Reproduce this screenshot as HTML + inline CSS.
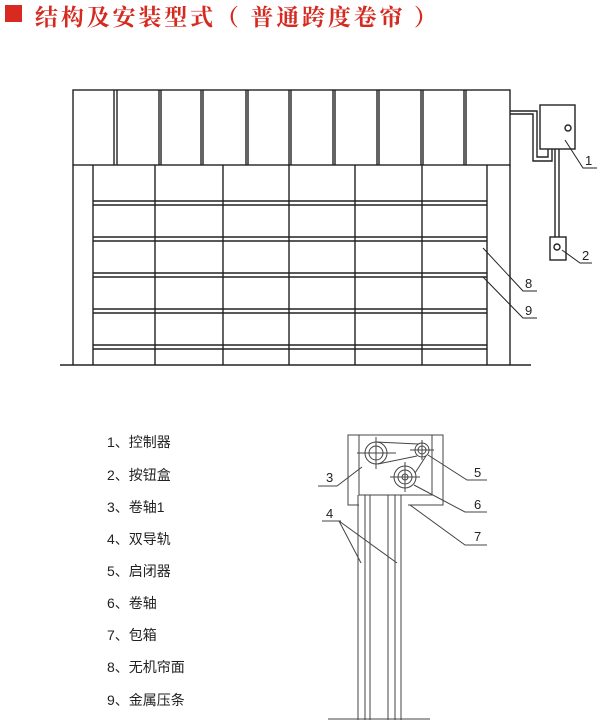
<!DOCTYPE html>
<html><head><meta charset="utf-8"><style>
html,body{margin:0;padding:0;background:#fff;width:600px;height:728px;overflow:hidden}
svg{display:block}
</style></head><body>
<svg width="600" height="728" viewBox="0 0 600 728" xmlns="http://www.w3.org/2000/svg">
<rect x="5" y="5" width="17" height="17" fill="#d92a22"/>
<text x="35" y="25" font-family="'Liberation Serif','Noto Serif CJK SC',serif" font-weight="bold" font-size="23" fill="#d42a20" textLength="402" lengthAdjust="spacing">结构及安装型式（ 普通跨度卷帘 ）</text>

<g stroke="#222" stroke-width="1.4" fill="none">
<rect x="73" y="90" width="437" height="75"/>
<line x1="114" y1="90" x2="114" y2="165"/><line x1="117" y1="90" x2="117" y2="165"/>
<line x1="159" y1="90" x2="159" y2="165"/><line x1="161" y1="90" x2="161" y2="165"/>
<line x1="201" y1="90" x2="201" y2="165"/><line x1="203" y1="90" x2="203" y2="165"/>
<line x1="246" y1="90" x2="246" y2="165"/><line x1="248" y1="90" x2="248" y2="165"/>
<line x1="289" y1="90" x2="289" y2="165"/><line x1="291" y1="90" x2="291" y2="165"/>
<line x1="333" y1="90" x2="333" y2="165"/><line x1="335" y1="90" x2="335" y2="165"/>
<line x1="377" y1="90" x2="377" y2="165"/><line x1="379" y1="90" x2="379" y2="165"/>
<line x1="421" y1="90" x2="421" y2="165"/><line x1="423" y1="90" x2="423" y2="165"/>
<line x1="464" y1="90" x2="464" y2="165"/><line x1="466" y1="90" x2="466" y2="165"/>
<line x1="73" y1="165" x2="73" y2="365"/><line x1="93" y1="165" x2="93" y2="365"/>
<line x1="487" y1="165" x2="487" y2="365"/><line x1="510" y1="165" x2="510" y2="365"/>
<line x1="60" y1="365" x2="531" y2="365"/>
<line x1="155" y1="165" x2="155" y2="365"/><line x1="223" y1="165" x2="223" y2="365"/>
<line x1="289" y1="165" x2="289" y2="365"/><line x1="355" y1="165" x2="355" y2="365"/>
<line x1="422" y1="165" x2="422" y2="365"/>
<line x1="93" y1="201" x2="487" y2="201"/><line x1="93" y1="205" x2="487" y2="205"/>
<line x1="93" y1="237" x2="487" y2="237"/><line x1="93" y1="241" x2="487" y2="241"/>
<line x1="93" y1="273" x2="487" y2="273"/><line x1="93" y1="277" x2="487" y2="277"/>
<line x1="93" y1="309" x2="487" y2="309"/><line x1="93" y1="313" x2="487" y2="313"/>
<line x1="93" y1="345" x2="487" y2="345"/><line x1="93" y1="349" x2="487" y2="349"/>
<rect x="540" y="105" width="35" height="44"/>
<circle cx="568" cy="128" r="3"/>
<polyline points="510,111 537,111 537,157 548,157 548,149"/>
<polyline points="510,114 533,114 533,161 552,161 552,149"/>
<line x1="555" y1="149" x2="555" y2="237"/><line x1="559" y1="149" x2="559" y2="237"/>
<rect x="550" y="237" width="16" height="23"/>
<circle cx="557" cy="247" r="3"/>
</g>
<g stroke="#222" stroke-width="1" fill="none">
<polyline points="565,140 583,168 597,168"/>
<polyline points="562,250 580,263 592,263"/>
<polyline points="483,248 523,291 537,291"/>
<polyline points="483,277 523,318 537,318"/>
</g>
<g font-family="'Liberation Sans',sans-serif" font-size="13" fill="#222">
<text x="585" y="165">1</text><text x="582" y="260">2</text>
<text x="525" y="288">8</text><text x="525" y="315">9</text>
</g>

<g stroke="#444" stroke-width="1" fill="none">
<polyline points="359,505 348,505 348,435 443,435 443,505 408,505"/>
<rect x="359" y="435" width="73" height="60"/>
<line x1="358" y1="495" x2="358" y2="720"/><line x1="365" y1="495" x2="365" y2="720"/>
<line x1="370" y1="495" x2="370" y2="720"/><line x1="388" y1="495" x2="388" y2="720"/>
<line x1="395" y1="495" x2="395" y2="720"/><line x1="401" y1="495" x2="401" y2="720"/>
<line x1="328" y1="719" x2="430" y2="719"/>
<circle cx="376" cy="453" r="11"/><circle cx="376" cy="453" r="7"/>
<circle cx="422" cy="450" r="7"/><circle cx="422" cy="450" r="4"/>
<circle cx="405" cy="477" r="11"/><circle cx="405" cy="477" r="7"/><circle cx="405" cy="477" r="3"/>
<line x1="376" y1="442" x2="418" y2="444"/><line x1="378" y1="464" x2="417" y2="456"/>
<line x1="415" y1="473" x2="426" y2="456"/>
<line x1="357" y1="453" x2="396" y2="453"/><line x1="376" y1="437" x2="376" y2="469"/>
<line x1="410" y1="450" x2="434" y2="450"/><line x1="422" y1="440" x2="422" y2="460"/>
<line x1="390" y1="477" x2="420" y2="477"/><line x1="405" y1="462" x2="405" y2="492"/>
<polyline points="362,467 337,486 318,486"/>
<polyline points="428,455 467,480 487,480"/>
<polyline points="414,485 465,512 487,512"/>
<polyline points="410,505 465,545 487,545"/>
<polyline points="322,521 341,521"/>
<line x1="339" y1="521" x2="361" y2="563"/><line x1="339" y1="521" x2="397" y2="563"/>
</g>
<g font-family="'Liberation Sans',sans-serif" font-size="13" fill="#222">
<text x="326" y="482">3</text><text x="474" y="477">5</text>
<text x="474" y="509">6</text><text x="474" y="541">7</text>
<text x="326" y="518">4</text>
</g>

<g font-family="'Liberation Sans','Noto Sans CJK SC',sans-serif" font-size="14" fill="#222">
<text x="107" y="447">1、控制器</text>
<text x="107" y="480">2、按钮盒</text>
<text x="107" y="512">3、卷轴1</text>
<text x="107" y="544">4、双导轨</text>
<text x="107" y="576">5、启闭器</text>
<text x="107" y="608">6、卷轴</text>
<text x="107" y="640">7、包箱</text>
<text x="107" y="672">8、无机帘面</text>
<text x="107" y="705">9、金属压条</text>
</g>
</svg>
</body></html>
